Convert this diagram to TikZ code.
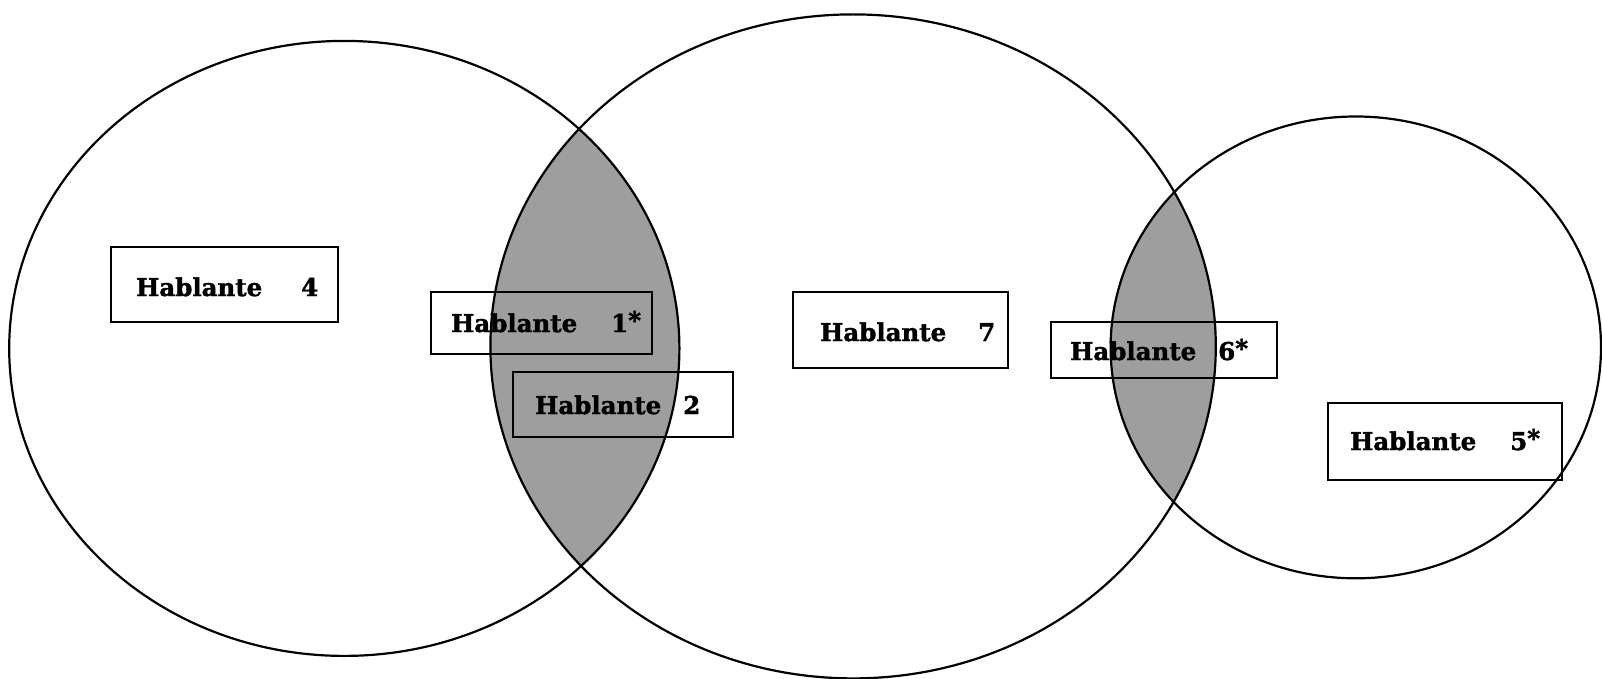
\documentclass[tikz,border=0pt]{standalone}
\usepackage{fontspec}
\setmainfont{DejaVu Serif}[BoldFeatures={FakeBold=1.6}]
\begin{document}
\begin{tikzpicture}[x=1pt,y=-1pt,
  ring/.style={line width=2.2pt},
  lens/.style={fill=black!38},
  namebox/.style={draw,rectangle,line width=1.8pt,inner sep=0pt},
  word/.style={inner sep=0pt,anchor=base west,font=\fontsize{24.5}{29}\selectfont\bfseries}]
\useasboundingbox (0,0) rectangle (1602,679);

% shaded overlaps between neighbouring circles
\begin{scope}
  \clip (344.3,348.4) ellipse [x radius=335.1pt, y radius=307.5pt];
  \fill[lens] (853.1,346.4) ellipse [x radius=362.7pt, y radius=332pt];
\end{scope}
\begin{scope}
  \clip (853.1,346.4) ellipse [x radius=362.7pt, y radius=332pt];
  \fill[lens] (1355.8,347.4) ellipse [x radius=245.2pt, y radius=230.9pt];
\end{scope}

% the three circles
\draw[ring] (344.3,348.4) ellipse [x radius=335.1pt, y radius=307.5pt];
\draw[ring] (853.1,346.4) ellipse [x radius=362.7pt, y radius=332pt];
\draw[ring] (1355.8,347.4) ellipse [x radius=245.2pt, y radius=230.9pt];

% speaker boxes
\node[namebox, minimum width=227pt, minimum height=75pt] (b4) at (224.5,284.5) {};
\node[namebox, minimum width=221pt, minimum height=62pt] (b1) at (541.5,323) {};
\node[namebox, minimum width=220pt, minimum height=65pt] (b2) at (623,404.5) {};
\node[namebox, minimum width=215pt, minimum height=76pt] (b7) at (900.5,330) {};
\node[namebox, minimum width=226pt, minimum height=56pt] (b6) at (1164,350) {};
\node[namebox, minimum width=234pt, minimum height=77pt] (b5) at (1445,441.5) {};

% labels
\node[word] (t4) at (136,296) {Hablante};
\node[word] (n4) at (301,296) {4};
\node[word] (t1) at (451,332) {Hablante};
\node[word] (n1) at (611,332) {1\raisebox{3pt}{*}};
\node[word] (t2) at (535,414) {Hablante};
\node[word] (n2) at (683,414) {2};
\node[word] (t7) at (820,341) {Hablante};
\node[word] (n7) at (978,341) {7};
\node[word] (t6) at (1070,360) {Hablante};
\node[word] (n6) at (1218,360) {6\raisebox{3pt}{*}};
\node[word] (t5) at (1350,450) {Hablante};
\node[word] (n5) at (1510,450) {5\raisebox{3pt}{*}};
\end{tikzpicture}
\end{document}
